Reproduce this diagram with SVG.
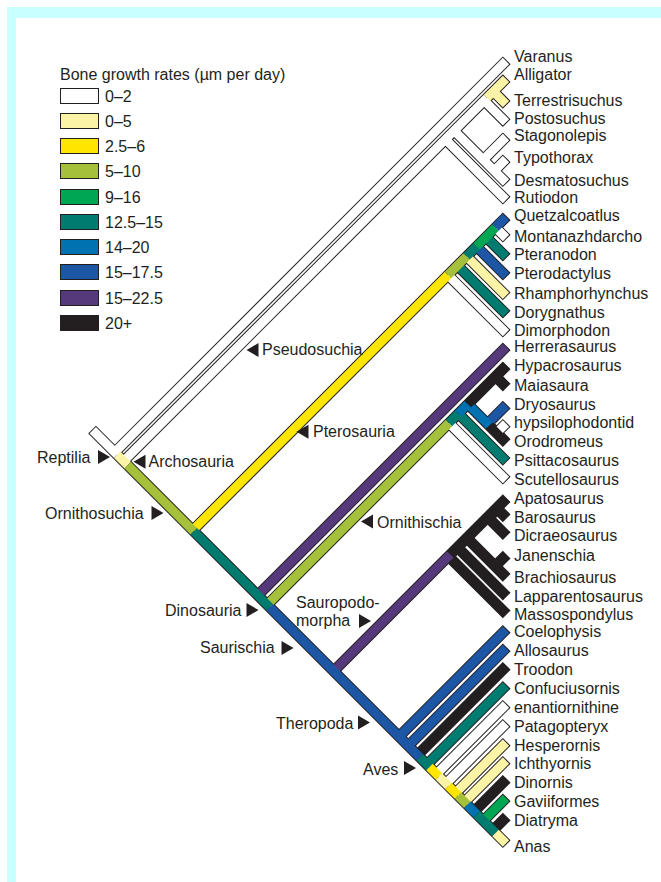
<svg xmlns="http://www.w3.org/2000/svg" width="661" height="882" viewBox="0 0 661 882">
<style>
text{font-family:"Liberation Sans",Arial,sans-serif;font-size:16px;fill:#231f20}
.o{stroke:#231f20;stroke-width:15.5;fill:none}
.f{stroke-width:12.7;fill:none}
.w{stroke:#fff}.p{stroke:#fbf3a5}.y{stroke:#ffe600}.ol{stroke:#a5c13b}.g{stroke:#00a651}.t{stroke:#007b6f}.b1{stroke:#0071b1}.b2{stroke:#1c56a5}.pu{stroke:#56397b}.k{stroke:#231f20}
.lg{stroke:#231f20;stroke-width:1}
</style>
<defs>
<path id="ar" d="M0,-7L0,7L12,0Z" fill="#231f20"/>
<path id="al" d="M12,-7L12,7L0,0Z" fill="#231f20"/>
</defs>
<rect x="7" y="7" width="654" height="875" fill="#c8ffff"/>
<rect x="16" y="18" width="645" height="864" fill="#fff"/>
<g id="legend">
<text x="60" y="80">Bone growth rates (µm per day)</text>
<rect class="lg" x="60.5" y="88.5" width="38" height="15" fill="#fff"/><text x="105" y="102">0–2</text>
<rect class="lg" x="60.5" y="113.5" width="38" height="15" fill="#fbf3a5"/><text x="105" y="127">0–5</text>
<rect class="lg" x="60.5" y="138.5" width="38" height="15" fill="#ffe600"/><text x="105" y="152">2.5–6</text>
<rect class="lg" x="60.5" y="163.5" width="38" height="15" fill="#a5c13b"/><text x="105" y="177">5–10</text>
<rect class="lg" x="60.5" y="189.5" width="38" height="15" fill="#00a651"/><text x="105" y="203">9–16</text>
<rect class="lg" x="60.5" y="214.5" width="38" height="15" fill="#007b6f"/><text x="105" y="228">12.5–15</text>
<rect class="lg" x="60.5" y="239.5" width="38" height="15" fill="#0071b1"/><text x="105" y="253">14–20</text>
<rect class="lg" x="60.5" y="264.5" width="38" height="15" fill="#1c56a5"/><text x="105" y="278">15–17.5</text>
<rect class="lg" x="60.5" y="290.5" width="38" height="15" fill="#56397b"/><text x="105" y="304">15–22.5</text>
<rect class="lg" x="60.5" y="315.5" width="38" height="15" fill="#231f20"/><text x="105" y="329">20+</text>
</g>
<g id="connectors" transform="matrix(0.5 0.5 0.5 -0.5 0 0)">
<g class="o">
<path d="M521.6,-337.5H1350.9"/>
<path d="M567,-337.5V446.4M584.8,-337.5V428.6M723,-337.5V290.4M853,-337.5V160.4M872,-337.5V141.4M1004.8,-337.5V8.6"/>
<path d="M584.8,306H707.4M584.8,323.5H689.9M584.8,383.6H629.8M584.8,401.9H611.5M643,323.5V370.4M665,323.5V348.4"/>
<path d="M723,173H840.4M723,192H821.4M723,210.3H803.1M723,230H783.4M723,249H764.4M723,268H745.4"/>
<path d="M872,26H987.4M872,44.8H968.6M872,63.7H949.7M872,119.1H894.3M911.2,63.7V102.2M929.5,63.7V83.9"/>
<path d="M1004.8,-107.7H1121.1M1004.8,-89.9H1103.3M1004.8,-71.1H1084.5M1004.8,-29.4H1042.8M1004.8,-11.6H1025M1061.3,-71.1V-47.9"/>
<path d="M1135.5,-337.5V-122.1M1154,-337.5V-140.6M1172.5,-337.5V-159.1M1191.5,-337.5V-178.1M1210.5,-337.5V-197.1M1229.5,-337.5V-216.1M1248.5,-337.5V-235.1M1266.5,-337.5V-253.1M1285.5,-337.5V-272.1M1304,-337.5V-290.6M1323.2,-337.5V-309.8"/>
</g>
<g class="f">
<path class="w" d="M643,323.5V369M665,323.5V347M929.5,63.7V82.5"/>
<path class="b2" d="M911.2,63.7V100.8"/>
<path class="k" d="M1061.3,-71.1V-49.3"/>
<path class="w" d="M584.8,306H706M584.8,323.5H688.5M584.8,383.6H628.4"/>
<path class="p" d="M584.8,401.9H610.1"/>
<path class="w" d="M723,173H839M723,268H744"/>
<path class="t" d="M723,192H820M723,249H763"/>
<path class="p" d="M723,210.3H801.7"/>
<path class="b2" d="M723,230H782"/>
<path class="w" d="M872,26H986"/>
<path class="t" d="M872,44.8H967.2"/>
<path class="b1" d="M872,63.7H915"/><path class="k" d="M915,63.7H948.3M872,119.1H892.9"/>
<path class="k" d="M1004.8,-107.7H1119.7M1004.8,-89.9H1101.9M1004.8,-71.1H1083.1M1004.8,-29.4H1041.4M1004.8,-11.6H1023.6M1004.8,-20.5H1014"/>
<path class="w" d="M584.8,-337.5V389"/><path class="p" d="M584.8,389V427.2"/>
<path class="y" d="M723,-337.5V173"/><path class="ol" d="M723,173V210.3"/><path class="t" d="M723,210.3V230"/><path class="g" d="M723,230V268"/><path class="b2" d="M723,268V289"/>
<path class="ol" d="M872,-337.5V26"/><path class="t" d="M872,26V44.8"/><path class="b1" d="M872,44.8V63.7"/><path class="k" d="M872,63.7V140"/>
<path class="pu" d="M1004.8,-337.5V-104"/><path class="k" d="M1004.8,-104V7.2"/>
<path class="w" d="M567,-337.5V445"/>
<path class="pu" d="M853,-337.5V159"/>
<path class="b2" d="M1135.5,-337.5V-123.5M1154,-337.5V-142"/>
<path class="k" d="M1172.5,-337.5V-160.5M1285.5,-337.5V-273.5M1323.2,-337.5V-311.2"/>
<path class="t" d="M1191.5,-337.5V-179.5"/>
<path class="w" d="M1210.5,-337.5V-198.5M1229.5,-337.5V-217.5"/>
<path class="p" d="M1248.5,-337.5V-236.5M1266.5,-337.5V-254.5"/>
<path class="g" d="M1304,-337.5V-292"/>
<path class="w" d="M523,-337.5H572"/><path class="p" d="M572,-337.5H593"/><path class="ol" d="M593,-337.5H725"/><path class="t" d="M725,-337.5H877"/><path class="b2" d="M877,-337.5H1177"/><path class="t" d="M1177,-337.5H1196.5"/><path class="y" d="M1196.5,-337.5H1215.5"/><path class="p" d="M1215.5,-337.5H1234.5"/><path class="y" d="M1234.5,-337.5H1253.5"/><path class="ol" d="M1253.5,-337.5H1272"/><path class="b1" d="M1272,-337.5H1291"/><path class="t" d="M1291,-337.5H1328.5"/><path class="p" d="M1328.5,-337.5H1349.5"/>
</g>
</g>
<g id="leaves">
<text x="514" y="62">Varanus</text>
<text x="514" y="80">Alligator</text>
<text x="514" y="105.5">Terrestrisuchus</text>
<text x="514" y="124">Postosuchus</text>
<text x="514" y="141">Stagonolepis</text>
<text x="514" y="163">Typothorax</text>
<text x="514" y="186">Desmatosuchus</text>
<text x="514" y="203">Rutiodon</text>
<text x="514" y="221">Quetzalcoatlus</text>
<text x="514" y="241.5">Montanazhdarcho</text>
<text x="514" y="260">Pteranodon</text>
<text x="514" y="279">Pterodactylus</text>
<text x="514" y="299">Rhamphorhynchus</text>
<text x="514" y="317.5">Dorygnathus</text>
<text x="514" y="336">Dimorphodon</text>
<text x="514" y="352">Herrerasaurus</text>
<text x="514" y="370.7">Hypacrosaurus</text>
<text x="514" y="391">Maiasaura</text>
<text x="514" y="409.5">Dryosaurus</text>
<text x="514" y="428">hypsilophodontid</text>
<text x="514" y="447">Orodromeus</text>
<text x="514" y="466">Psittacosaurus</text>
<text x="514" y="485">Scutellosaurus</text>
<text x="514" y="504">Apatosaurus</text>
<text x="514" y="523">Barosaurus</text>
<text x="514" y="541">Dicraeosaurus</text>
<text x="514" y="561">Janenschia</text>
<text x="514" y="583">Brachiosaurus</text>
<text x="514" y="602">Lapparentosaurus</text>
<text x="514" y="620">Massospondylus</text>
<text x="514" y="637">Coelophysis</text>
<text x="514" y="656">Allosaurus</text>
<text x="514" y="675">Troodon</text>
<text x="514" y="694">Confuciusornis</text>
<text x="514" y="713">enantiornithine</text>
<text x="514" y="732">Patagopteryx</text>
<text x="514" y="750.5">Hesperornis</text>
<text x="514" y="769">Ichthyornis</text>
<text x="514" y="788">Dinornis</text>
<text x="514" y="807">Gaviiformes</text>
<text x="514" y="826">Diatryma</text>
<text x="514" y="851.5">Anas</text>
</g>
<g id="clades">
<g id="reptilia"><text x="37" y="463">Reptilia</text><use href="#ar" x="98" y="457"/></g>
<g id="archosauria"><use href="#al" x="133.5" y="461.7"/><text x="148.5" y="467">Archosauria</text></g>
<g id="ornithosuchia"><text x="45" y="519">Ornithosuchia</text><use href="#ar" x="151.5" y="513"/></g>
<g id="pseudosuchia"><use href="#al" x="246.5" y="350"/><text x="262" y="355">Pseudosuchia</text></g>
<g id="pterosauria"><use href="#al" x="296.5" y="431.7"/><text x="313" y="437">Pterosauria</text></g>
<g id="ornithischia"><use href="#al" x="361" y="521.5"/><text x="377" y="527.5">Ornithischia</text></g>
<g id="dinosauria"><text x="165" y="615.5">Dinosauria</text><use href="#ar" x="246.5" y="610"/></g>
<g id="sauropodomorpha"><text x="296" y="608">Sauropodo-</text><text x="296" y="626">morpha</text><use href="#ar" x="359" y="621"/></g>
<g id="saurischia"><text x="200" y="653">Saurischia</text><use href="#ar" x="281.5" y="648"/></g>
<g id="theropoda"><text x="276" y="729">Theropoda</text><use href="#ar" x="358" y="722.5"/></g>
<g id="aves"><text x="363" y="775">Aves</text><use href="#ar" x="404" y="768"/></g>
</g>
</svg>
